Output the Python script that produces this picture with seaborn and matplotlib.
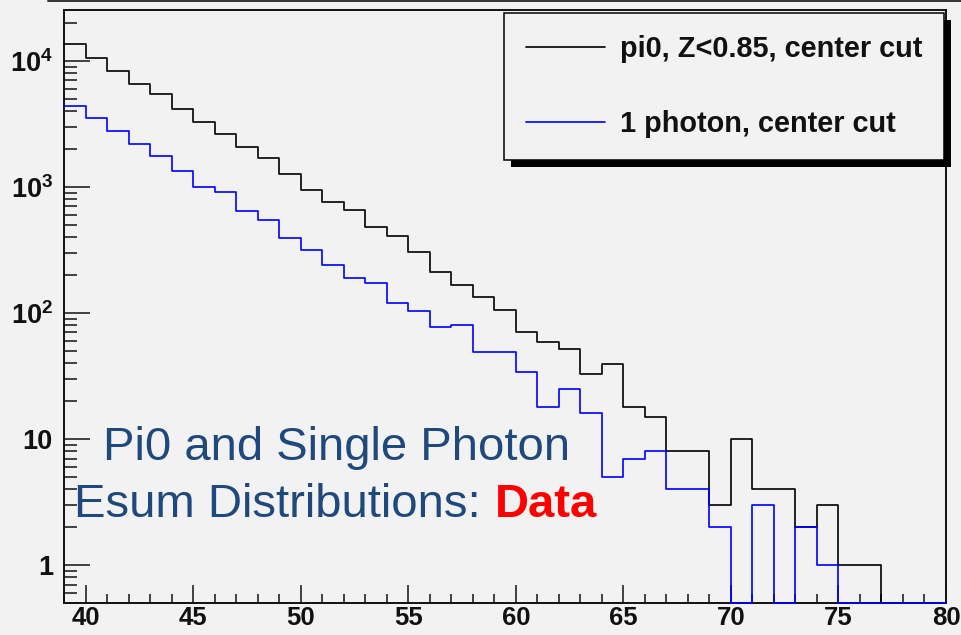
import numpy as np
import pandas as pd
import matplotlib
matplotlib.use("Agg")
import matplotlib.pyplot as plt
import seaborn as sns
from matplotlib.lines import Line2D
from matplotlib.patches import Rectangle
from matplotlib.ticker import FixedLocator, LogLocator, MultipleLocator, NullFormatter
from matplotlib.transforms import IdentityTransform

# Esum histogram, 1 GeV bins from 39 to 80
bin_edges = list(range(39, 81))
pi0_counts = [13600, 10500, 8330, 6590, 5430, 4130, 3290, 2610, 2070, 1700,
              1260, 936, 760, 649, 481, 406, 304, 211, 167, 133,
              105, 71, 59, 52, 33, 39, 18, 15, 8, 8,
              3, 10, 4, 4, 2, 3, 1, 1, 0, 0, 0]
photon_counts = [4390, 3500, 2770, 2200, 1745, 1333, 1000, 908, 641, 544,
                 393, 313, 238, 189, 172, 119, 104, 78, 80, 49,
                 49, 34, 18, 25, 16, 5, 7, 8, 4, 4,
                 2, 0, 3, 0, 2, 1, 0, 0, 0, 0, 0]
series_labels = ["pi0, Z<0.85, center cut", "1 photon, center cut"]
series_colors = ["black", "#0000ff"]

x_ticks = [40, 45, 50, 55, 60, 65, 70, 75, 80]
y_ticks = [1, 10, 100, 1000, 10000]
y_tick_labels = ["1", "10", "$10^{2}$", "$10^{3}$", "$10^{4}$"]

title_line1 = "Pi0 and Single Photon"
title_line2 = "Esum Distributions:"
title_tag = "Data"

bg = "#f2f2f2"
text_blue = "#1f497d"
y_floor = 0.5

sns.set_theme(style="ticks")
plt.rcParams["font.family"] = ["Liberation Sans", "DejaVu Sans"]
plt.rcParams["mathtext.fontset"] = "custom"
plt.rcParams["mathtext.rm"] = "Liberation Sans:bold"
plt.rcParams["mathtext.it"] = "Liberation Sans:bold"
plt.rcParams["mathtext.bf"] = "Liberation Sans:bold"
plt.rcParams["mathtext.default"] = "rm"

W, H = 961, 635
fig = plt.figure(figsize=(W / 100, H / 100), dpi=100, facecolor=bg)
ax = fig.add_axes([64 / W, 32 / H, 882 / W, 593.5 / H], facecolor=bg)

centers = [e + 0.5 for e in bin_edges[:-1]]
df = pd.DataFrame({"esum": centers, "pi0": pi0_counts, "photon": photon_counts})

for col, lab, colr in zip(["pi0", "photon"], series_labels, series_colors):
    sns.histplot(data=df, x="esum", weights=col, bins=bin_edges, element="step",
                 fill=False, color=colr, linewidth=1.2, label=lab, ax=ax)

ax.set_yscale("log")
ax.set_xlim(39, 80)
ax.set_ylim(y_floor, 25500)
ax.set_xlabel("")
ax.set_ylabel("")

# Empty bins sit on the frame floor, drawn over the axis line
for ln in ax.lines:
    ln.set_ydata(np.clip(np.asarray(ln.get_ydata(), dtype=float), y_floor, None))
    ln.set_zorder(3)
    ln.set_clip_on(False)

for s in ax.spines.values():
    s.set_linewidth(1.4)
    s.set_color("#111111")
    s.set_visible(True)

ax.xaxis.set_major_locator(FixedLocator(x_ticks))
ax.set_xticklabels([str(v) for v in x_ticks])
ax.xaxis.set_minor_locator(MultipleLocator(1))
ax.yaxis.set_major_locator(FixedLocator(y_ticks))
ax.set_yticklabels(y_tick_labels)
ax.yaxis.set_minor_locator(LogLocator(base=10, subs=np.arange(2, 10), numticks=30))
ax.yaxis.set_minor_formatter(NullFormatter())

ax.tick_params(axis="both", which="both", direction="in", top=False, right=False,
               color="#111111", width=1.1)
ax.tick_params(axis="y", which="major", length=18.5, pad=8)
ax.tick_params(axis="y", which="minor", length=9.3)
ax.tick_params(axis="x", which="major", length=13, pad=2)
ax.tick_params(axis="x", which="minor", length=6.8)
for lab in ax.get_yticklabels():
    lab.set_fontsize(19.5)
    lab.set_fontweight("bold")
    lab.set_color("#111111")
for lab in ax.get_xticklabels():
    lab.set_fontsize(18.5)
    lab.set_fontweight("bold")
    lab.set_color("#111111")

leg = ax.legend(loc="upper right", bbox_to_anchor=(944 / W, 1 - 13 / H),
                bbox_transform=fig.transFigure, borderaxespad=0,
                frameon=True, fancybox=False, framealpha=1, facecolor=bg,
                edgecolor="black", prop={"weight": "bold", "size": 20.8},
                handlelength=2.73, handletextpad=0.52, labelspacing=1.65,
                borderpad=0.75)
leg.get_frame().set_linewidth(1.1)
for t in leg.get_texts():
    t.set_color("#111111")

# Line across the top of the pad
fig.add_artist(Line2D([48 / W, 1.0], [1 - 1 / H, 1 - 1 / H], color="#333333", lw=1.4))

# Caption text block
fig.text(337 / W, 1 - 460 / H, title_line1, ha="center", va="baseline",
         fontsize=34, color=text_blue)
t2 = fig.text(74 / W, 1 - 517 / H, title_line2, ha="left", va="baseline",
              fontsize=34, color=text_blue)
ax.annotate(title_tag, xy=(1, 0), xycoords=t2, xytext=(10, 0),
            textcoords="offset points", ha="left", va="bottom",
            fontsize=34, fontweight="bold", color="red", annotation_clip=False)

# Solid drop shadow behind the legend box
fig.canvas.draw()
bb = leg.get_window_extent()
shadow = Rectangle((bb.x0 + 7, bb.y0 - 7), bb.width, bb.height,
                   transform=IdentityTransform(), facecolor="black",
                   edgecolor="none", zorder=leg.get_zorder() - 0.1)
ax.add_artist(shadow)
shadow.set_clip_on(False)

fig.savefig("out.png", dpi=100, facecolor=bg)
